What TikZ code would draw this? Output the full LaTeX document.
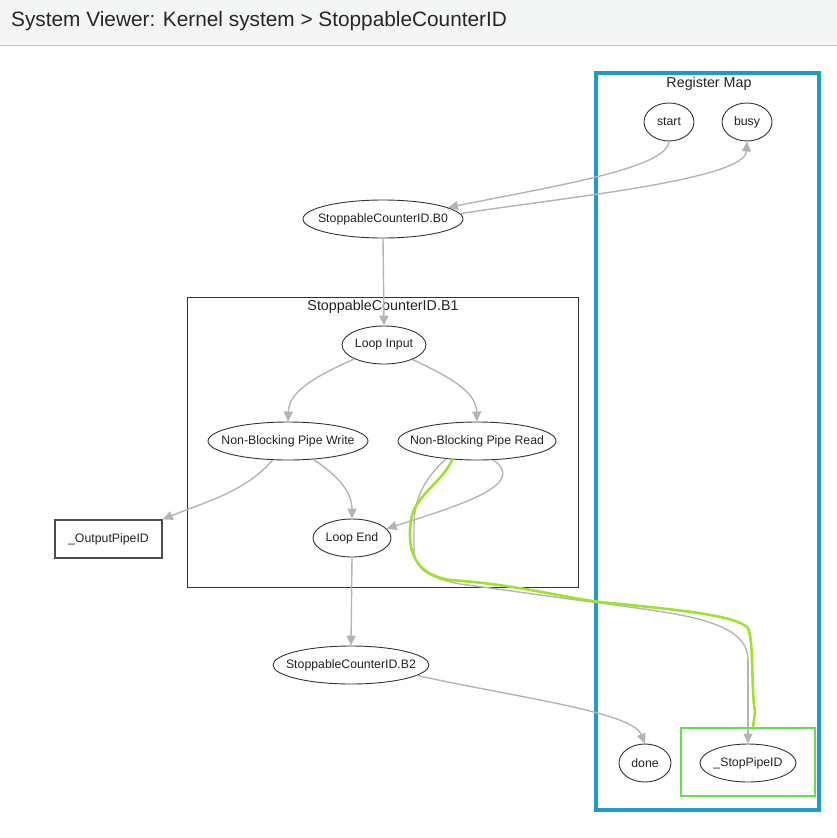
\documentclass[tikz,border=0pt]{standalone}
\usepackage{fontspec}
\setmainfont{Liberation Sans}
\usetikzlibrary{shapes.geometric,arrows.meta}
\definecolor{edgegray}{HTML}{B4B4B4}
\definecolor{regblue}{HTML}{1E9BC6}
\definecolor{hlgreen}{HTML}{9FE22C}
\definecolor{boxgreen}{HTML}{66DD55}
\definecolor{titlebg}{HTML}{F4F5F5}
\definecolor{txt}{HTML}{222222}
\newcommand{\zw}[1]{\makebox[0pt]{#1}}
\tikzset{
  oval/.style={ellipse,draw=black!80,line width=0.9pt,inner sep=0pt,font=\fontsize{12.3}{14}\selectfont,text=txt},
  edge/.style={draw=edgegray,line width=1.4pt,-{Triangle[length=10pt,width=9pt]}},
  plain/.style={draw=edgegray,line width=1.4pt},
  hl/.style={draw=hlgreen,line width=2.6pt,line join=round,line cap=round},
  lbl/.style={font=\fontsize{14.3}{16}\selectfont,text=txt,inner sep=0pt}
}
\begin{document}
\begin{tikzpicture}[x=1pt,y=-1pt]
\useasboundingbox (0,0) rectangle (837,838);
% title bar
\fill[titlebg] (0,0) rectangle (837,45);
\draw[black!22,line width=1pt] (0,45) -- (837,45);
\node[anchor=west,inner sep=0pt,font=\fontsize{20.8}{24}\selectfont,text=black!85] (title) at (11,21) {System Viewer: Kernel system > StoppableCounterID};
% Register Map
\draw[regblue,line width=3.6pt] (596,73) rectangle (819,810);
\node[lbl] (rmlbl) at (709,84) {Register Map};
% B1 cluster
\draw[black!80,line width=0.9pt] (187,297) rectangle (578,587);
\node[lbl] (b1lbl) at (383,307) {StoppableCounterID.B1};
% stop pipe box
\draw[boxgreen,line width=1.2pt] (681,728) rectangle (815,796);
% nodes
\node[oval,minimum width=50pt,minimum height=38pt] (start) at (669,122) {\zw{start}};
\node[oval,minimum width=50pt,minimum height=38pt] (busy) at (747,122) {\zw{busy}};
\node[oval,minimum width=160pt,minimum height=38pt] (b0) at (383,219) {\zw{StoppableCounterID.B0}};
\node[oval,minimum width=84pt,minimum height=38pt] (li) at (384,345) {\zw{Loop Input}};
\node[oval,minimum width=160pt,minimum height=38pt] (nbw) at (288,441) {\zw{Non-Blocking Pipe Write}};
\node[oval,minimum width=158pt,minimum height=38pt] (nbr) at (477,441) {\zw{Non-Blocking Pipe Read}};
\node[oval,minimum width=78pt,minimum height=38pt] (le) at (352,538) {\zw{Loop End}};
\node[draw=black!70,line width=1.3pt,minimum width=107pt,minimum height=38pt,inner sep=0pt,font=\fontsize{12.3}{14}\selectfont,text=txt] (out) at (108.5,539) {\zw{\_OutputPipeID}};
\node[oval,minimum width=156pt,minimum height=38pt] (b2) at (351,665) {\zw{StoppableCounterID.B2}};
\node[oval,minimum width=52pt,minimum height=38pt] (done) at (645,763) {\zw{done}};
\node[oval,minimum width=96pt,minimum height=38pt] (stop) at (748,763) {\zw{\_StopPipeID}};
% edges
\draw[edge] (start.south) .. controls (667,168) and (560,185) .. (b0.10);
\draw[edge] (b0.4) .. controls (560,198) and (745,180) .. (busy.south);
\draw[edge] (b0.south) -- (li.north);
\draw[edge] (li.205) .. controls (312,378) and (289,392) .. (nbw.north);
\draw[edge] (li.333) .. controls (452,378) and (476,392) .. (nbr.north);
\draw[edge] (nbw.231) .. controls (245,492) and (205,502) .. (out.north east);
\draw[edge] (nbw.324) .. controls (342,478) and (352,495) .. (le.north);
\draw[edge] (nbr.311) .. controls (528,485) and (460,505) .. (le.15);
\draw[edge] (le.south) -- (b2.north);
\draw[edge] (b2.351) .. controls (520,698) and (632,712) .. (done.north);
\coordinate (g1) at (414,548);
\coordinate (g2) at (748,660);
\draw[plain] (nbr.210) .. controls (425,478) and (414,498) .. (414,525) -- (g1);
\draw[plain] (g1) .. controls (414,570) and (430,578) .. (460,584) .. controls (520,592) and (560,598) .. (600,603) .. controls (680,614) and (748,620) .. (g2);
\draw[edge] (g2) -- (stop.north);
% highlighted path
\coordinate (h1) at (753,727);
\draw[hl] (nbr.217) .. controls (440,485) and (415,495) .. (411,520) .. controls (406,555) and (418,575) .. (450,580) .. controls (520,585) and (560,597) .. (600,602) .. controls (680,610) and (735,615) .. (748,628) .. controls (754,642) and (751,690) .. (755,712) -- (h1);
\end{tikzpicture}
\end{document}
